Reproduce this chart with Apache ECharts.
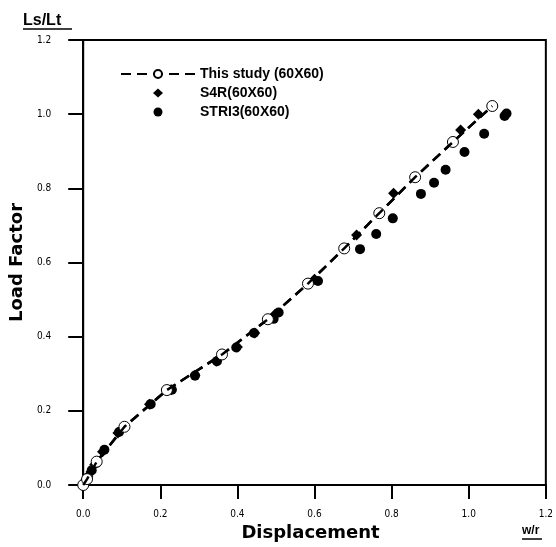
<!DOCTYPE html>
<html>
<head>
<meta charset="utf-8">
<script src="https://cdn.jsdelivr.net/npm/echarts@6/dist/echarts.min.js"></script>
<style>
html,body{margin:0;padding:0;background:#fff;}
#c{width:556px;height:547px;}
</style>
</head>
<body>
<div id="c"></div>
<script>
// ---- data ----
const seriesNames = ['This study (60X60)', 'S4R(60X60)', 'STRI3(60X60)'];
const studyX = [0, 0.01, 0.035, 0.107, 0.217, 0.36, 0.479, 0.583, 0.677, 0.768, 0.861, 0.959, 1.061];
const studyY = [0, 0.016, 0.063, 0.157, 0.256, 0.352, 0.447, 0.543, 0.638, 0.733, 0.830, 0.925, 1.022];
const s4rX = [0, 0.005, 0.012, 0.02, 0.03, 0.05, 0.09, 0.172, 0.228, 0.29, 0.345, 0.40, 0.445, 0.497, 0.60, 0.709, 0.805, 0.979, 1.025];
const s4rY = [0, 0.01, 0.022, 0.035, 0.055, 0.09, 0.14, 0.218, 0.257, 0.296, 0.334, 0.372, 0.41, 0.46, 0.555, 0.674, 0.787, 0.957, 1.0];
const stri3X = [0, 0.005, 0.01, 0.022, 0.035, 0.055, 0.093, 0.175, 0.23, 0.29, 0.347, 0.397, 0.443, 0.494, 0.507, 0.609, 0.718, 0.76, 0.803, 0.876, 0.91, 0.94, 0.989, 1.04, 1.093, 1.098];
const stri3Y = [0, 0.008, 0.019, 0.04, 0.06, 0.095, 0.143, 0.218, 0.257, 0.295, 0.334, 0.371, 0.41, 0.448, 0.465, 0.55, 0.636, 0.677, 0.719, 0.785, 0.815, 0.85, 0.898, 0.947, 0.995, 1.002];
const xTickLabels = ['0.0', '0.2', '0.4', '0.6', '0.8', '1.0', '1.2'];
const yTickLabels = ['0.0', '0.2', '0.4', '0.6', '0.8', '1.0', '1.2'];

const zip = (xs, ys) => xs.map((x, i) => [x, ys[i]]);
const tickFont = "'Liberation Sans Narrow','DejaVu Sans Condensed',sans-serif";
const legendFont = {fontFamily: "'Liberation Sans',Arial,sans-serif", fontWeight: 'bold', fontSize: 14, color: '#000'};
const dash = [10, 6];

const chart = echarts.init(document.getElementById('c'), null, {renderer: 'canvas'});
chart.setOption({
  animation: false,
  backgroundColor: '#fff',
  grid: {left: 83, right: 9, top: 40, bottom: 62, show: true, borderColor: '#000', borderWidth: 2, backgroundColor: 'transparent'},
  xAxis: {
    type: 'value', min: 0, max: 1.2, interval: 0.2,
    name: 'Displacement', nameLocation: 'middle', nameGap: 37,
    nameTextStyle: {fontFamily: 'DejaVu Sans', fontWeight: 'bold', fontSize: 18, color: '#000', padding: [0, 8, 0, 0]},
    axisLine: {show: true, onZero: false, lineStyle: {color: '#000', width: 2}},
    axisTick: {show: true, inside: false, length: 14, lineStyle: {color: '#000', width: 2}},
    axisLabel: {margin: 24, color: '#000', fontSize: 10, fontFamily: tickFont,
      formatter: (v) => xTickLabels[Math.round(v / 0.2)]},
    splitLine: {show: false}
  },
  yAxis: {
    type: 'value', min: 0, max: 1.2, interval: 0.2,
    name: 'Load Factor', nameLocation: 'middle', nameGap: 46, nameRotate: 90,
    nameTextStyle: {fontFamily: 'DejaVu Sans', fontWeight: 'bold', fontSize: 18, color: '#000'},
    axisLine: {show: true, onZero: false, lineStyle: {color: '#000', width: 2}},
    axisTick: {show: true, inside: false, length: 15, lineStyle: {color: '#000', width: 2}},
    axisLabel: {margin: 32, color: '#000', fontSize: 10, fontFamily: tickFont,
      formatter: (v) => yTickLabels[Math.round(v / 0.2)]},
    splitLine: {show: false}
  },
  legend: [
    {
      orient: 'vertical', left: 115, top: 62,
      itemWidth: 74, itemHeight: 10, itemGap: 5,
      data: [seriesNames[0]],
      textStyle: legendFont
    },
    {
      orient: 'vertical', left: 148, top: 81,
      itemWidth: 10, itemHeight: 9, itemGap: 5,
      data: [seriesNames[1], seriesNames[2]],
      textStyle: Object.assign({padding: [0, 0, 0, 32]}, legendFont)
    }
  ],
  graphic: [
    {type: 'text', left: 23, top: 13, style: {text: 'Ls/Lt', fontFamily: "'Liberation Sans',Arial,sans-serif", fontWeight: 'bold', fontSize: 16, fill: '#000'}},
    {type: 'line', shape: {x1: 23, y1: 29, x2: 72, y2: 29}, style: {stroke: '#000', lineWidth: 1.5}},
    {type: 'text', left: 522, top: 525, style: {text: 'w/r', fontFamily: "'Liberation Sans',Arial,sans-serif", fontWeight: 'bold', fontSize: 12, fill: '#000'}},
    {type: 'line', shape: {x1: 522, y1: 539, x2: 542, y2: 539}, style: {stroke: '#000', lineWidth: 1.5}}
  ],
  series: [
    {
      name: seriesNames[2], type: 'scatter', data: zip(stri3X, stri3Y),
      symbol: 'circle', symbolSize: 10, itemStyle: {color: '#000', opacity: 1}, z: 2
    },
    {
      name: seriesNames[1], type: 'scatter', data: zip(s4rX, s4rY),
      symbol: 'diamond', symbolSize: 11, itemStyle: {color: '#000', opacity: 1}, z: 3
    },
    {
      name: seriesNames[0], type: 'line', data: zip(studyX, studyY),
      symbol: 'circle', symbolSize: 11, showSymbol: true, color: '#000',
      itemStyle: {color: '#fff', borderColor: '#000', borderWidth: 1, opacity: 1},
      lineStyle: {color: '#000', width: 2.5, type: dash}, z: 4
    },
    {
      name: 'overlay', type: 'line', data: zip(studyX, studyY),
      symbol: 'none', lineStyle: {color: '#000', width: 2.5, type: dash}, z: 5,
      silent: true
    }
  ]
});
</script>
</body>
</html>
